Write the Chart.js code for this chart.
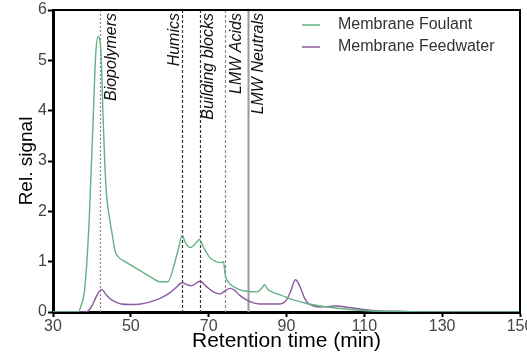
<!DOCTYPE html>
<html>
<head>
<meta charset="utf-8">
<script src="https://cdn.jsdelivr.net/npm/chart.js@4/dist/chart.umd.min.js"></script>
<style>
    html, body { margin: 0; padding: 0; background: #fff; }
    #wrap { width: 527px; height: 355px; position: relative; }
</style>
</head>
<body>
<div id="wrap"><canvas id="chart"></canvas></div>
<script>
/* 資料 */
const foulantTime = [30, 36.5, 37.1, 38.2, 39.3, 40.3, 41, 41.6, 42.3, 42.9, 43.6, 44.6, 45.3, 46, 47, 48.5, 50, 52.4, 55, 57.5, 59.5, 61, 62.2, 63.2, 64, 65.3, 66.5, 67.6, 68.6, 70.3, 72, 73.3, 73.8, 74.3, 75.2, 76.5, 78, 80, 82.5, 83.6, 84.4, 85.2, 86.5, 88.4, 91.8, 95.2, 100.4, 106.4, 112, 120, 126, 150];
const foulantSignal = [0, 0, 0.1, 0.5, 1.83, 3.8, 5.15, 5.47, 5.2, 3.8, 2.5, 1.83, 1.5, 1.2, 1.08, 1.0, 0.93, 0.82, 0.7, 0.6, 0.6, 0.9, 1.25, 1.52, 1.38, 1.28, 1.35, 1.44, 1.3, 1.08, 1.0, 0.98, 1.0, 0.72, 0.58, 0.5, 0.44, 0.41, 0.4, 0.47, 0.54, 0.45, 0.39, 0.34, 0.24, 0.17, 0.1, 0.05, 0.02, 0.01, 0, 0];

const feedTime = [30, 38.5, 39.3, 40.2, 40.9, 41.8, 42.5, 43.5, 44.6, 46, 47.5, 50, 52.5, 55, 57.5, 60, 61.5, 63.2, 64.5, 65.6, 67.8, 69.5, 71.2, 72.9, 74.2, 75.5, 76.5, 78, 79.5, 81.5, 83.2, 88.4, 90, 91, 92.3, 93.2, 93.8, 94.8, 95.6, 97, 98.6, 101, 103, 105, 108, 112, 120, 126, 150];
const feedSignal = [0, 0, 0.04, 0.15, 0.27, 0.4, 0.45, 0.36, 0.27, 0.2, 0.16, 0.15, 0.16, 0.2, 0.27, 0.38, 0.48, 0.58, 0.54, 0.52, 0.61, 0.5, 0.4, 0.36, 0.42, 0.47, 0.44, 0.33, 0.25, 0.18, 0.16, 0.16, 0.24, 0.4, 0.64, 0.55, 0.44, 0.25, 0.17, 0.12, 0.1, 0.11, 0.12, 0.1, 0.07, 0.03, 0.01, 0, 0];

const seriesNames = ['Membrane Foulant', 'Membrane Feedwater'];

// 分區標記 (分鐘)
const markerTimes = [42.2, 63.2, 67.7, 74.1, 80.1];
const markerLabels = ['Biopolymers', 'Humics', 'Building blocks', 'LMW Acids', 'LMW Neutrals'];

const xTicks = [30, 50, 70, 90, 110, 130, 150];
const yTicks = [0, 1, 2, 3, 4, 5, 6];

/* 樣式 */
const FONT = '"Liberation Sans", Arial, sans-serif';
const GREEN = '#62b386';
const PURPLE = '#8a5aa0';

// 標記線樣式與標籤偏移 (px, 旋轉後基線相對於線的位置)
const markerStyles = [
    { color: '#8a8a8a', dash: [2, 2], width: 1.2, labelDx: 15 },
    { color: '#333333', dash: [3, 2], width: 1.2, labelDx: -4 },
    { color: '#333333', dash: [3, 2], width: 1.2, labelDx: 12 },
    { color: '#8a8a8a', dash: [3, 2], width: 1.2, labelDx: 15 },
    { color: '#9a9a9a', dash: [], width: 2, labelDx: 14 }
];

function toPoints(xs, ys) {
    return xs.map((x, i) => ({ x: x, y: ys[i] }));
}

/* 外框、分區標記、圖例 */
const decorPlugin = {
    id: 'decor',
    beforeDatasetsDraw(chart) {
        const { ctx, chartArea, scales } = chart;
        ctx.save();
        markerTimes.forEach((t, i) => {
            const st = markerStyles[i];
            const x = Math.round(scales.x.getPixelForValue(t)) + 0.5;
            ctx.beginPath();
            ctx.strokeStyle = st.color;
            ctx.lineWidth = st.width;
            ctx.setLineDash(st.dash);
            ctx.moveTo(x, chartArea.top);
            ctx.lineTo(x, chartArea.bottom);
            ctx.stroke();

            // 旋轉標籤
            ctx.save();
            ctx.setLineDash([]);
            ctx.translate(x + st.labelDx, chartArea.top + 3);
            ctx.rotate(-Math.PI / 2);
            ctx.font = 'italic 16px ' + FONT;
            ctx.fillStyle = '#111';
            ctx.textAlign = 'right';
            ctx.textBaseline = 'alphabetic';
            ctx.fillText(markerLabels[i], 0, 0);
            ctx.restore();
        });
        ctx.restore();
    },
    afterDraw(chart) {
        const { ctx, chartArea } = chart;
        ctx.save();
        // 上、右框線
        ctx.strokeStyle = '#000';
        ctx.lineWidth = 2;
        ctx.beginPath();
        ctx.moveTo(chartArea.left, chartArea.top);
        ctx.lineTo(chartArea.right, chartArea.top);
        ctx.lineTo(chartArea.right, chartArea.bottom);
        ctx.stroke();

        // 圖例
        const colors = [GREEN, PURPLE];
        ctx.font = '16px ' + FONT;
        ctx.textBaseline = 'middle';
        ctx.textAlign = 'left';
        seriesNames.forEach((name, i) => {
            const y = 25 + i * 22;
            ctx.strokeStyle = colors[i];
            ctx.lineWidth = 1.5;
            ctx.beginPath();
            ctx.moveTo(302, y);
            ctx.lineTo(320, y);
            ctx.stroke();
            ctx.fillStyle = '#333';
            ctx.fillText(name, 338, y);
        });
        ctx.restore();
    }
};

const ctx = document.getElementById('chart');
new Chart(ctx.getContext('2d'), {
    type: 'line',
    data: {
        datasets: [
            {
                label: seriesNames[0],
                data: toPoints(foulantTime, foulantSignal),
                borderColor: GREEN,
                borderWidth: 1.4,
                pointRadius: 0,
                fill: false,
                cubicInterpolationMode: 'monotone'
            },
            {
                label: seriesNames[1],
                data: toPoints(feedTime, feedSignal),
                borderColor: PURPLE,
                borderWidth: 1.4,
                pointRadius: 0,
                fill: false,
                cubicInterpolationMode: 'monotone'
            }
        ]
    },
    options: {
        responsive: true,
        maintainAspectRatio: false,
        animation: false,
        layout: {
            autoPadding: false,
            padding: { top: 10, right: 7, left: 0, bottom: 0 }
        },
        plugins: {
            legend: { display: false },
            tooltip: { enabled: false }
        },
        scales: {
            x: {
                type: 'linear',
                min: 30,
                max: 150,
                afterBuildTicks: s => { s.ticks = xTicks.map(v => ({ value: v })); },
                afterFit: s => { s.height = 43; s.paddingLeft = 0; s.paddingRight = 0; },
                border: { display: true, color: '#000', width: 3 },
                grid: { display: true, drawOnChartArea: false, drawTicks: true, tickLength: 5, tickWidth: 2, tickColor: '#000' },
                ticks: { color: '#444', font: { family: FONT, size: 16 }, padding: 0, maxRotation: 0 },
                title: {
                    display: true,
                    text: 'Retention time (min)',
                    color: '#000',
                    font: { family: FONT, size: 21 },
                    padding: { top: 0, bottom: 1 }
                }
            },
            y: {
                type: 'linear',
                min: 0,
                max: 6,
                afterBuildTicks: s => { s.ticks = yTicks.map(v => ({ value: v })); },
                afterFit: s => { s.width = 53; s.paddingTop = 0; s.paddingBottom = 0; },
                border: { display: true, color: '#000', width: 3 },
                grid: { display: true, drawOnChartArea: false, drawTicks: true, tickLength: 5, tickWidth: 2, tickColor: '#000' },
                ticks: { color: '#444', font: { family: FONT, size: 16 }, padding: 1 },
                title: {
                    display: true,
                    text: 'Rel. signal',
                    color: '#000',
                    font: { family: FONT, size: 19 },
                    padding: { top: 15, bottom: 0 }
                }
            }
        }
    },
    plugins: [decorPlugin]
});
</script>
</body>
</html>
